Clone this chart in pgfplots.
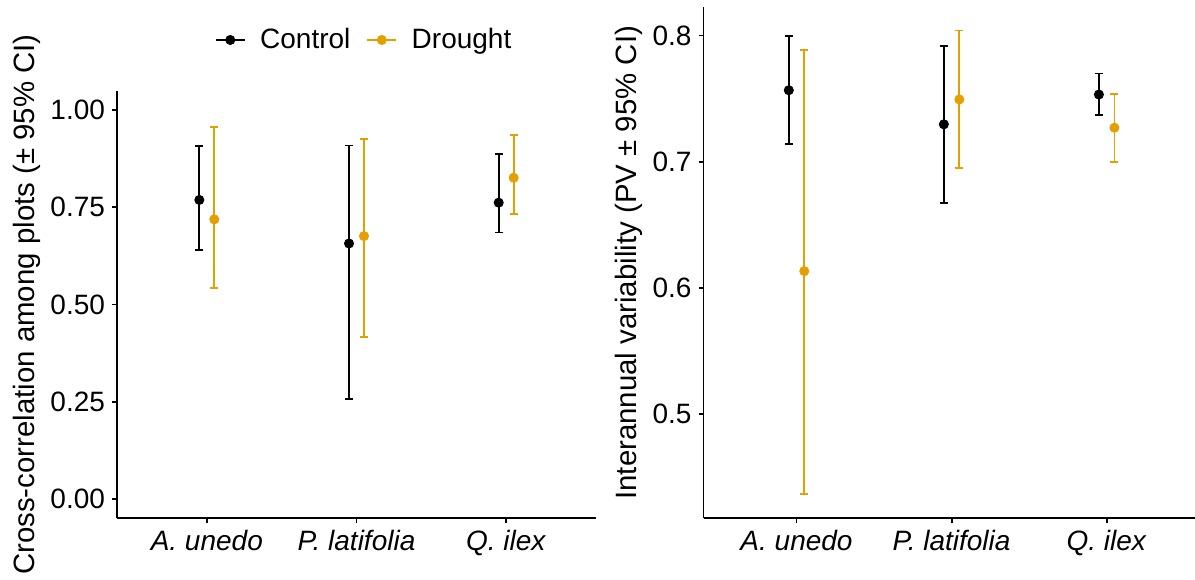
\documentclass[border=0pt]{standalone}
\usepackage{fontspec}
\setmainfont{Liberation Sans}
\usepackage{pgfplots}
\pgfplotsset{compat=1.18}
\usepackage{pgfplotstable}
\definecolor{drought}{HTML}{E69F00}

% estimate and 95% CI, dodged by 0.05
\pgfplotstableread{
x    y     lo    hi
0.95 0.769 0.640 0.907
1.95 0.657 0.257 0.909
2.95 0.762 0.685 0.887
}\corctrl
\pgfplotstableread{
x    y     lo    hi
1.05 0.719 0.542 0.956
2.05 0.676 0.417 0.925
3.05 0.826 0.733 0.937
}\cordrought
\pgfplotstableread{
x    y      lo     hi
0.95 0.7567 0.7140 0.7998
1.95 0.7297 0.6675 0.7920
2.95 0.7533 0.7368 0.7700
}\pvctrl
\pgfplotstableread{
x    y      lo     hi
1.05 0.6134 0.4370 0.7887
2.05 0.7494 0.6948 0.8040
3.05 0.7270 0.7000 0.7538
}\pvdrought

\pgfplotsset{
  panel/.style={
    scale only axis,
    axis x line*=bottom, axis y line*=left,
    axis line style={line width=0.9pt,-},
    xmin=0.4, xmax=3.6,
    xtick={1,2,3},
    xticklabels={\textit{A. unedo},\textit{P. latifolia},\textit{Q. ilex}},
    tick align=outside, major tick length=2.5pt,
    tick style={line width=0.9pt,black},
    ticklabel style={font=\fontsize{14}{16}\selectfont},
    label style={font=\fontsize{14.7}{17}\selectfont},
    ylabel shift=-2pt,
    clip=false,
  },
  ci/.style={
    legend image code/.code={\draw[#1,line width=0.9pt] (0pt,0pt) -- (14.5pt,0pt);
      \fill[#1] (7.25pt,0pt) circle (2.3pt);
      \path (20pt,0pt);},
    only marks, mark=*, mark size=2.3pt,
    mark options={draw=none, fill=#1},
    color=#1,
    error bars/.cd, y dir=both, y explicit,
    error bar style={line width=0.9pt, #1},
    error mark=|,
    error mark options={line width=0.9pt, mark size=2pt, #1},
  },
}

\begin{document}
\begin{tikzpicture}
\path[use as bounding box] (0,0) rectangle (597.5pt,289.5pt);

\begin{axis}[panel,
  at={(58.5pt,30.35pt)}, anchor=south west,
  width=239.5pt, height=213.8pt,
  ymin=-0.05, ymax=1.05,
  ytick={0,0.25,0.5,0.75,1},
  yticklabels={0.00,0.25,0.50,0.75,1.00},
  ylabel={Cross-correlation among plots (± 95\% CI)},
  legend columns=2,
  legend style={at={(rel axis cs:0.518,1.1186)}, anchor=center, draw=none,
    font=\fontsize{14}{16}\selectfont,
    /tikz/every even column/.append style={column sep=6pt}},
]
\addplot[ci=black]
  table[x=x, y=y, y error plus expr=\thisrow{hi}-\thisrow{y},
        y error minus expr=\thisrow{y}-\thisrow{lo}] {\corctrl};
\addlegendentry{Control}
\addplot[ci=drought]
  table[x=x, y=y, y error plus expr=\thisrow{hi}-\thisrow{y},
        y error minus expr=\thisrow{y}-\thisrow{lo}] {\cordrought};
\addlegendentry{Drought}
\end{axis}

\begin{axis}[panel,
  at={(351.75pt,30.35pt)}, anchor=south west,
  width=248.1pt, height=255.5pt,
  ymin=0.4176, ymax=0.8224,
  ytick={0.5,0.6,0.7,0.8},
  yticklabels={0.5,0.6,0.7,0.8},
  ylabel={Interannual variability (PV ± 95\% CI)},
]
\addplot[ci=black]
  table[x=x, y=y, y error plus expr=\thisrow{hi}-\thisrow{y},
        y error minus expr=\thisrow{y}-\thisrow{lo}] {\pvctrl};
\addplot[ci=drought]
  table[x=x, y=y, y error plus expr=\thisrow{hi}-\thisrow{y},
        y error minus expr=\thisrow{y}-\thisrow{lo}] {\pvdrought};
\end{axis}
\end{tikzpicture}
\end{document}
